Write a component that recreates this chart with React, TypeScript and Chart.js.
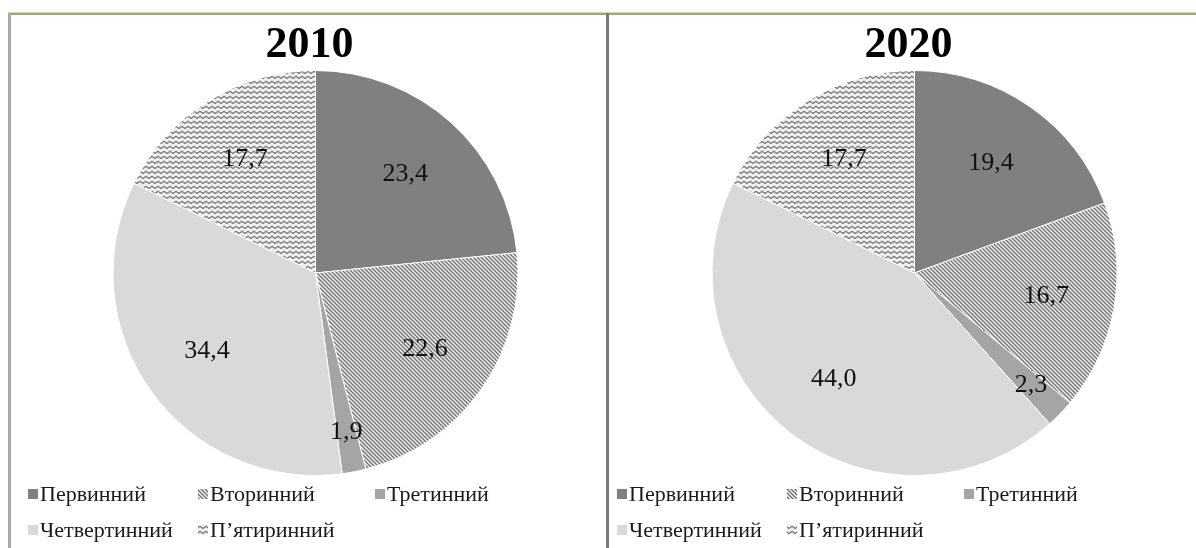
import React, { useEffect, useRef } from "react";
import { Chart, registerables } from "chart.js";

Chart.register(...registerables);

const categories = ["Первинний", "Вторинний", "Третинний", "Четвертинний", "П’ятиринний"];
const titles = ["2010", "2020"];
const values2010 = [23.4, 22.6, 1.9, 34.4, 17.7];
const values2020 = [19.4, 16.7, 2.3, 44.0, 17.7];

const SERIF = "'Liberation Serif', 'Times New Roman', serif";

function makeHatch(): CanvasPattern | string {
  const c = document.createElement("canvas");
  c.width = 4;
  c.height = 4;
  const g = c.getContext("2d");
  if (!g) return "#aaa";
  g.fillStyle = "#eeeeee";
  g.fillRect(0, 0, 4, 4);
  g.strokeStyle = "#707070";
  g.lineWidth = 1.3;
  g.beginPath();
  g.moveTo(-1, -1);
  g.lineTo(5, 5);
  g.moveTo(-1, 3);
  g.lineTo(1, 5);
  g.moveTo(3, -1);
  g.lineTo(5, 1);
  g.stroke();
  return g.createPattern(c, "repeat") as CanvasPattern;
}

function makeZigzag(): CanvasPattern | string {
  const c = document.createElement("canvas");
  c.width = 6;
  c.height = 5;
  const g = c.getContext("2d");
  if (!g) return "#ccc";
  g.fillStyle = "#f0f0f0";
  g.fillRect(0, 0, 6, 5);
  g.strokeStyle = "#787878";
  g.lineWidth = 1.4;
  g.beginPath();
  g.moveTo(-1.5, 1.5);
  g.lineTo(0, 3.5);
  g.lineTo(3, 1.3);
  g.lineTo(6, 3.5);
  g.lineTo(7.5, 1.5);
  g.stroke();
  return g.createPattern(c, "repeat") as CanvasPattern;
}

const legendColumns = [0, 170, 347];

function PieChart(props: { title: string; values: number[]; width: number; height: number; padLeft: number; legendLeft: number }) {
  const ref = useRef<HTMLCanvasElement | null>(null);
  useEffect(() => {
    if (!ref.current) return;
    const hatch = makeHatch();
    const zig = makeZigzag();
    const fills: any[] = ["#808080", hatch, "#a5a5a5", "#d9d9d9", zig];

    const labelPlugin = {
      id: "sliceLabels",
      afterDatasetsDraw(chart: any) {
        const ctx = chart.ctx;
        const meta = chart.getDatasetMeta(0);
        ctx.save();
        ctx.font = `26px ${SERIF}`;
        ctx.fillStyle = "#111";
        ctx.textAlign = "center";
        ctx.textBaseline = "middle";
        meta.data.forEach((arc: any, i: number) => {
          const p = arc.getProps(["x", "y", "startAngle", "endAngle", "outerRadius"], true);
          const mid = (p.startAngle + p.endAngle) / 2;
          const v = props.values[i];
          const f = v < 5 ? 0.8 : 0.66;
          const x = p.x + Math.cos(mid) * p.outerRadius * f;
          const y = p.y + Math.sin(mid) * p.outerRadius * f;
          ctx.fillText(v.toFixed(1).replace(".", ","), x, y);
        });
        ctx.restore();
      },
    };

    const titleAndLegendPlugin = {
      id: "titleAndLegend",
      afterDraw(chart: any) {
        const ctx = chart.ctx;
        const meta = chart.getDatasetMeta(0);
        const cx = meta.data.length ? meta.data[0].x : chart.width / 2;
        ctx.save();
        ctx.font = `bold 44px ${SERIF}`;
        ctx.fillStyle = "#000";
        ctx.textAlign = "center";
        ctx.textBaseline = "middle";
        ctx.fillText(props.title, cx - 6, 31);

        ctx.font = `22px ${SERIF}`;
        ctx.textBaseline = "middle";
        ctx.textAlign = "left";
        const rows = [479, 515];
        categories.forEach((name, i) => {
          const row = Math.floor(i / 3);
          const col = i % 3;
          const x = props.legendLeft + legendColumns[col];
          const y = rows[row];
          ctx.fillStyle = fills[i];
          ctx.fillRect(x, y - 5, 10, 10);
          ctx.fillStyle = "#1a1a1a";
          ctx.fillText(name, x + 12, y + 1);
        });
        ctx.restore();
      },
    };

    const chart = new Chart(ref.current, {
      type: "pie",
      data: {
        labels: categories,
        datasets: [
          {
            data: props.values,
            backgroundColor: fills,
            borderColor: "#ffffff",
            borderWidth: 1,
          },
        ],
      },
      options: {
        responsive: false,
        animation: false,
        devicePixelRatio: 1,
        layout: { padding: { top: 55, bottom: 72, left: props.padLeft, right: 0 } },
        plugins: {
          legend: { display: false },
          tooltip: { enabled: false },
          title: { display: false },
        },
      },
      plugins: [labelPlugin, titleAndLegendPlugin],
    } as any);
    return () => chart.destroy();
  }, [props.title, props.values, props.padLeft, props.legendLeft]);
  return <canvas ref={ref} width={props.width} height={props.height} style={{ display: "block" }} />;
}

export default function App() {
  return (
    <div style={{ position: "absolute", left: 0, top: 0, width: 1196, height: 548, background: "#fff", overflow: "hidden" }}>
      <div style={{ position: "absolute", left: 8, top: 12, width: 1188, height: 1, background: "#e0e070" }} />
      <div style={{ position: "absolute", left: 8, top: 13, width: 1188, height: 2, background: "#a0a0a0" }} />
      <div style={{ position: "absolute", left: 8, top: 13, width: 3, height: 535, background: "#a8a8a8" }} />
      <div style={{ position: "absolute", left: 606, top: 13, width: 3, height: 535, background: "#7a7a7a" }} />
      <div style={{ position: "absolute", left: 11, top: 15 }}>
        <PieChart title={titles[0]} values={values2010} width={595} height={533} padLeft={14} legendLeft={17} />
      </div>
      <div style={{ position: "absolute", left: 609, top: 15 }}>
        <PieChart title={titles[1]} values={values2020} width={587} height={533} padLeft={24} legendLeft={8} />
      </div>
    </div>
  );
}
